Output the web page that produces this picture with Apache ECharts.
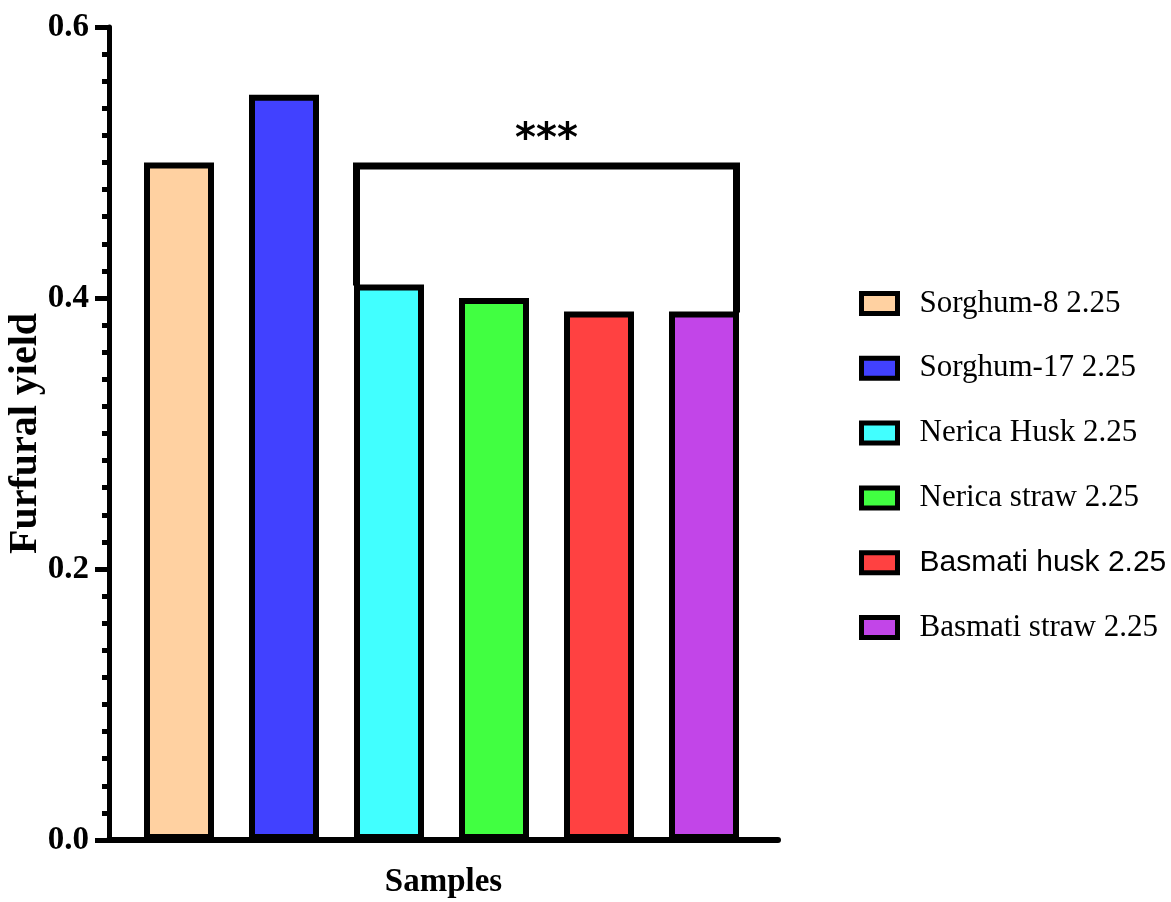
<!DOCTYPE html>
<html>
<head>
<meta charset="utf-8">
<title>Furfural yield</title>
<script src="https://cdn.jsdelivr.net/npm/echarts@6/dist/echarts.min.js"></script>
<style>
  html, body { margin: 0; padding: 0; background: #ffffff; }
  #chart { width: 1171px; height: 902px; }
</style>
</head>
<body>
<div id="chart"></div>
<script>
// Samples and their furfural yield
const categories = ['Sorghum-8 2.25', 'Sorghum-17 2.25', 'Nerica Husk 2.25',
                    'Nerica straw 2.25', 'Basmati husk 2.25', 'Basmati straw 2.25'];
const yields = [0.50, 0.55, 0.41, 0.40, 0.39, 0.39];
const barColors = ['#FFD1A1', '#4141FF', '#41FFFF', '#41FF41', '#FF4141', '#C245E8'];

// Significance bracket: from bar 2 to bar 5 at level 0.5, marked ***
const bracketFrom = 2;
const bracketTo = 5;
const bracketLevel = 0.5;
const bracketMark = '***';

// y-axis ticks
const yMin = 0, yMax = 0.6, yStep = 0.2;

const SERIF = '"Liberation Serif", "Times New Roman", serif';
const SANS = '"Liberation Sans", Arial, sans-serif';
const BAR_W = 70;
const BORDER = 6;
const BRACKET_W = 7;

const chart = echarts.init(document.getElementById('chart'), null, { renderer: 'canvas' });

const barSeries = categories.map((name, i) => ({
  name: name,
  type: 'bar',
  xAxisIndex: 0,
  yAxisIndex: 0,
  stack: 'all',
  barWidth: BAR_W,
  data: categories.map((c, j) => (j === i ? yields[i] : '-')),
  itemStyle: { color: barColors[i], borderColor: '#000', borderWidth: BORDER },
  z: 3
}));

const bracketSeries = {
  type: 'custom',
  xAxisIndex: 0,
  yAxisIndex: 0,
  z: 4,
  silent: true,
  encode: { x: [0, 1], y: [2, 3, 4] },
  data: [[bracketFrom, bracketTo, bracketLevel, yields[bracketFrom], yields[bracketTo]]],
  renderItem: function (params, api) {
    const a = api.value(0), b = api.value(1), lvl = api.value(2);
    const pL = api.coord([a, api.value(3)]);
    const pR = api.coord([b, api.value(4)]);
    const pTop = api.coord([a, lvl]);
    const xL = pL[0] - BAR_W / 2 + BORDER / 2 - 0.5;
    const xR = pR[0] + BAR_W / 2 - BORDER / 2 + 0.5;
    const yTop = pTop[1] + BRACKET_W / 2;
    return {
      type: 'group',
      children: [
        {
          type: 'polyline',
          shape: { points: [[xL, pL[1] + 1], [xL, yTop], [xR, yTop], [xR, pR[1] + 1]] },
          style: { stroke: '#000', lineWidth: BRACKET_W, fill: null, lineJoin: 'miter' }
        },
        {
          type: 'text',
          style: {
            text: bracketMark,
            x: (xL + xR) / 2,
            y: yTop - 25,
            align: 'center',
            verticalAlign: 'middle',
            font: 'bold 40px "DejaVu Sans", sans-serif',
            fill: '#000'
          }
        }
      ]
    };
  }
};

const legendText = { fontFamily: SERIF, fontSize: 31, color: '#000', lineHeight: 40, padding: [0, 0, 0, 17] };

const option = {
  backgroundColor: '#ffffff',
  animation: false,
  grid: [
    // bars
    { left: 126.5, width: 630, top: 27, bottom: 62, containLabel: false, outerBoundsMode: 'none' },
    // axes frame
    { left: 109, right: 393, top: 27, bottom: 62, containLabel: false, outerBoundsMode: 'none' }
  ],
  xAxis: [
    {
      type: 'category', gridIndex: 0, data: categories,
      axisLine: { show: false }, axisTick: { show: false }, axisLabel: { show: false }
    },
    {
      type: 'category', gridIndex: 1, data: [''],
      name: 'Samples', nameLocation: 'middle', nameGap: 26,
      nameTextStyle: { fontFamily: SERIF, fontWeight: 'bold', fontSize: 33, color: '#000' },
      axisLine: { show: true, lineStyle: { color: '#000', width: 6 } },
      axisTick: { show: false }, axisLabel: { show: false }
    }
  ],
  yAxis: [
    {
      type: 'value', gridIndex: 0, min: yMin, max: yMax, interval: yStep,
      show: false, splitLine: { show: false }
    },
    {
      type: 'value', gridIndex: 1, min: yMin, max: yMax, interval: yStep,
      name: 'Furfural yield', nameLocation: 'middle', nameGap: 63, nameRotate: 90,
      nameMoveOverlap: false,
      nameTextStyle: { fontFamily: SERIF, fontWeight: 'bold', fontSize: 40, color: '#000' },
      axisLine: { show: true, lineStyle: { color: '#000', width: 5 } },
      axisTick: { show: true, length: 14, lineStyle: { color: '#000', width: 5 } },
      minorTick: { show: true, splitNumber: 10, length: 7, lineStyle: { color: '#000', width: 5 } },
      axisLabel: {
        margin: 20, color: '#000', fontFamily: SERIF, fontWeight: 'bold', fontSize: 33,
        formatter: v => v.toFixed(1)
      },
      splitLine: { show: false }
    }
  ],
  legend: {
    orient: 'vertical',
    left: 859,
    top: 283.5,
    padding: 0,
    itemWidth: 36,
    itemHeight: 20,
    itemGap: 24.8,
    selectedMode: false,
    icon: 'rect',
    itemStyle: { borderColor: '#000', borderWidth: 5 },
    textStyle: legendText,
    data: categories.map(name => (
      name === 'Basmati husk 2.25'
        ? { name: name, textStyle: Object.assign({}, legendText, { fontFamily: SANS, fontSize: 30 }) }
        : { name: name }
    ))
  },
  series: barSeries.concat([bracketSeries])
};

chart.setOption(option);
</script>
</body>
</html>
